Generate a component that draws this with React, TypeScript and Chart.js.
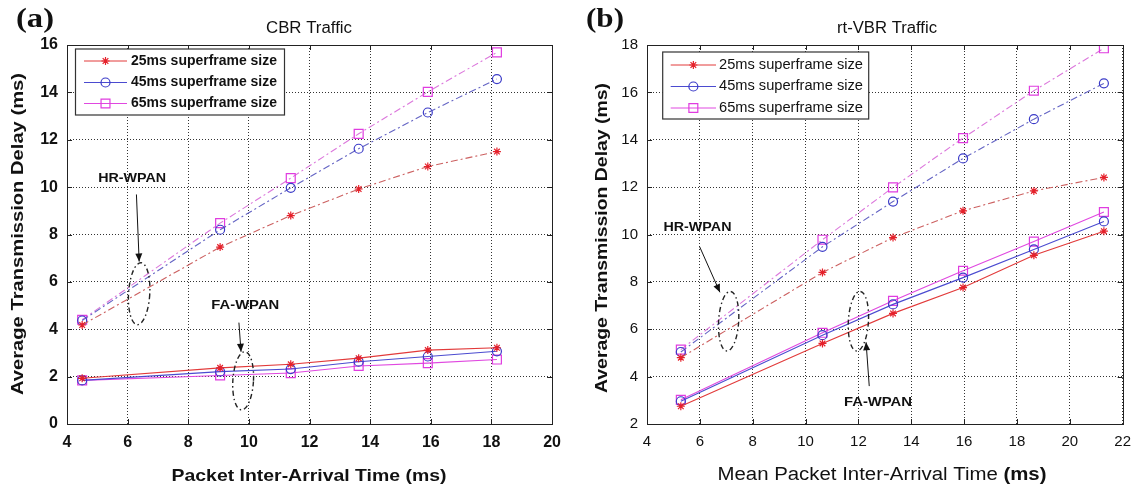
import React, { useEffect, useRef } from "react";
import { Chart, registerables } from "chart.js";
Chart.register(...registerables);

// ---------------- DATA ----------------
const seriesLabels = ["25ms superframe size", "45ms superframe size", "65ms superframe size"];

// (a) CBR Traffic
const cbrX = [4.5, 9.05, 11.38, 13.62, 15.9, 18.18];
const cbrHR25 = [4.18, 7.47, 8.8, 9.92, 10.87, 11.5];
const cbrHR45 = [4.37, 8.2, 9.97, 11.62, 13.15, 14.56];
const cbrHR65 = [4.4, 8.48, 10.38, 12.25, 14.02, 15.69];
const cbrFA25 = [1.93, 2.37, 2.52, 2.78, 3.12, 3.22];
const cbrFA45 = [1.84, 2.21, 2.32, 2.63, 2.85, 3.07];
const cbrFA65 = [1.84, 2.05, 2.15, 2.45, 2.57, 2.72];

// (b) rt-VBR Traffic
const vbrX = [5.28, 10.64, 13.31, 15.96, 18.64, 21.29];
const vbrHR25 = [4.8, 8.4, 9.87, 11.0, 11.84, 12.41];
const vbrHR45 = [5.04, 9.48, 11.39, 13.21, 14.87, 16.38];
const vbrHR65 = [5.14, 9.78, 11.99, 14.07, 16.07, 17.86];
const vbrFA25 = [2.75, 5.4, 6.67, 7.76, 9.12, 10.14];
const vbrFA45 = [2.96, 5.75, 7.05, 8.18, 9.37, 10.55];
const vbrFA65 = [3.02, 5.85, 7.2, 8.47, 9.7, 10.95];

const cbrXRange = [4, 20];
const cbrYRange = [0, 16];
const vbrXRange = [4, 22];
const vbrYRange = [2, 18];
const tickStep = 2;

// ---------------- STYLE ----------------
const SANS = "'Liberation Sans', Arial, Helvetica, sans-serif";
const SERIF = "'Liberation Serif', 'Times New Roman', serif";
const W = 570;
const H = 488;

const markerColors = ["#e5212b", "#3b3bc8", "#e03ce0"];
const faLineColors = ["#e23a3a", "#4b4bd0", "#e048e0"];
const hrLineColors = ["#cc6060", "#6464c4", "#dc78dc"];
const pointStyles = ["star", "circle", "rect"];
const pointRadii = [4, 4.5, 6.3];

type Note = {
  text: string;
  tx: number; ty: number;
  ax0: number; ay0: number; ax1: number; ay1: number;
  ex: number; ey: number; erx: number; ery: number;
};

type Layout = {
  area: { left: number; right: number; top: number; bottom: number };
  bold: boolean;
  tickSize: number;
  title: string; titleX: number; titleW: number;
  label: string; labelX: number;
  xTitle: string[]; xTitleX: number; xTitleY: number; xTitleW: number; xTitleFonts: string[];
  yTitleX: number; yTitleY: number; yTitleLen: number;
  legend: { x: number; y: number; w: number; h: number; rows: number[]; l0: number; l1: number; tx: number; tw: number; font: string };
  notes: Note[];
};

const cbrNotes: Note[] = [
  { text: "HR-WPAN", tx: 6.15, ty: 10.37, ax0: 6.29, ay0: 9.69, ax1: 6.38, ay1: 6.86, ex: 6.38, ey: 5.5, erx: 0.35, ery: 1.31 },
  { text: "FA-WPAN", tx: 9.88, ty: 5.0, ax0: 9.67, ay0: 4.28, ax1: 9.74, ay1: 3.05, ex: 9.81, ey: 1.82, erx: 0.34, ery: 1.23 },
];
const vbrNotes: Note[] = [
  { text: "HR-WPAN", tx: 5.91, ty: 10.3, ax0: 5.99, ay0: 9.49, ax1: 6.76, ay1: 7.56, ex: 7.09, ey: 6.34, erx: 0.38, ery: 1.26 },
  { text: "FA-WPAN", tx: 12.74, ty: 2.88, ax0: 12.41, ay0: 3.6, ax1: 12.29, ay1: 5.45, ex: 12.0, ey: 6.34, erx: 0.38, ery: 1.26 },
];

const cbrLayout: Layout = {
  area: { left: 67, right: 555, top: 45, bottom: 424 },
  bold: true,
  tickSize: 16,
  title: "CBR Traffic", titleX: 309, titleW: 86,
  label: "(a)", labelX: 35,
  xTitle: ["Packet Inter-Arrival Time (ms)"], xTitleX: 309, xTitleY: 476, xTitleW: 275, xTitleFonts: [`bold 17px ${SANS}`],
  yTitleX: 18, yTitleY: 234, yTitleLen: 322,
  legend: { x: 75.5, y: 49, w: 209, h: 66, rows: [61, 82.5, 103.5], l0: 84, l1: 127, tx: 131, tw: 146, font: `bold 14px ${SANS}` },
  notes: cbrNotes,
};
const vbrLayout: Layout = {
  area: { left: 77, right: 559, top: 45, bottom: 424 },
  bold: false,
  tickSize: 15,
  title: "rt-VBR Traffic", titleX: 317, titleW: 100,
  label: "(b)", labelX: 35,
  xTitle: ["Mean Packet Inter-Arrival Time ", "(ms)"], xTitleX: 312, xTitleY: 475, xTitleW: 329, xTitleFonts: [`18px ${SANS}`, `bold 18px ${SANS}`],
  yTitleX: 32, yTitleY: 238, yTitleLen: 310,
  legend: { x: 92.7, y: 52, w: 206, h: 67, rows: [65, 86.5, 108], l0: 100.7, l1: 146, tx: 149, tw: 144, font: `14px ${SANS}` },
  notes: vbrNotes,
};

// ---------------- DRAW HELPERS ----------------
function stretchText(ctx: CanvasRenderingContext2D, text: string, x: number, y: number, font: string, width: number, align: CanvasTextAlign = "center", rot = 0) {
  ctx.save();
  ctx.font = font;
  const w = ctx.measureText(text).width;
  ctx.translate(x, y);
  if (rot) ctx.rotate(rot);
  ctx.scale(width / w, 1);
  ctx.textAlign = align;
  ctx.textBaseline = "middle";
  ctx.fillStyle = "#111";
  ctx.fillText(text, 0, 0);
  ctx.restore();
}

function multiFontText(ctx: CanvasRenderingContext2D, parts: string[], fonts: string[], cx: number, y: number, width: number) {
  ctx.save();
  const widths = parts.map((p, i) => { ctx.font = fonts[i]; return ctx.measureText(p).width; });
  const total = widths.reduce((a, b) => a + b, 0);
  const s = width / total;
  ctx.translate(cx - width / 2, y);
  ctx.scale(s, 1);
  ctx.textAlign = "left";
  ctx.textBaseline = "middle";
  ctx.fillStyle = "#111";
  let x = 0;
  parts.forEach((p, i) => { ctx.font = fonts[i]; ctx.fillText(p, x, 0); x += widths[i]; });
  ctx.restore();
}

function drawMarker(ctx: CanvasRenderingContext2D, style: string, x: number, y: number, r: number, color: string) {
  ctx.save();
  ctx.strokeStyle = color;
  ctx.lineWidth = 1.2;
  ctx.beginPath();
  if (style === "star") {
    ctx.moveTo(x - r, y); ctx.lineTo(x + r, y);
    ctx.moveTo(x, y - r); ctx.lineTo(x, y + r);
    const d = r * 0.707;
    ctx.moveTo(x - d, y - d); ctx.lineTo(x + d, y + d);
    ctx.moveTo(x - d, y + d); ctx.lineTo(x + d, y - d);
  } else if (style === "circle") {
    ctx.arc(x, y, r, 0, Math.PI * 2);
  } else {
    const s = r * 0.707;
    ctx.rect(x - s, y - s, 2 * s, 2 * s);
  }
  ctx.stroke();
  ctx.restore();
}

function arrow(ctx: CanvasRenderingContext2D, x0: number, y0: number, x1: number, y1: number) {
  ctx.save();
  ctx.strokeStyle = "#111";
  ctx.fillStyle = "#111";
  ctx.lineWidth = 1;
  ctx.beginPath();
  ctx.moveTo(x0, y0);
  ctx.lineTo(x1, y1);
  ctx.stroke();
  const a = Math.atan2(y1 - y0, x1 - x0);
  const L = 8, hw = 3.5;
  ctx.beginPath();
  ctx.moveTo(x1, y1);
  ctx.lineTo(x1 - L * Math.cos(a) + hw * Math.sin(a), y1 - L * Math.sin(a) - hw * Math.cos(a));
  ctx.lineTo(x1 - L * Math.cos(a) - hw * Math.sin(a), y1 - L * Math.sin(a) + hw * Math.cos(a));
  ctx.closePath();
  ctx.fill();
  ctx.restore();
}

const decorPlugin = {
  id: "decor",
  afterDraw(chart: any) {
    const lay: Layout = chart.options.plugins.decor.layout;
    const ctx: CanvasRenderingContext2D = chart.ctx;
    const { left, right, top, bottom } = chart.chartArea;
    const xs = chart.scales.x;
    const ys = chart.scales.y;

    // frame + inward ticks
    ctx.save();
    ctx.strokeStyle = "#222";
    ctx.lineWidth = 1;
    ctx.strokeRect(Math.round(left) + 0.5, Math.round(top) + 0.5, Math.round(right - left), Math.round(bottom - top));
    ctx.beginPath();
    xs.ticks.forEach((t: any) => {
      const p = Math.round(xs.getPixelForValue(t.value)) + 0.5;
      ctx.moveTo(p, bottom); ctx.lineTo(p, bottom - 5);
      ctx.moveTo(p, top); ctx.lineTo(p, top + 5);
    });
    ys.ticks.forEach((t: any) => {
      const p = Math.round(ys.getPixelForValue(t.value)) + 0.5;
      ctx.moveTo(left, p); ctx.lineTo(left + 5, p);
      ctx.moveTo(right, p); ctx.lineTo(right - 5, p);
    });
    ctx.stroke();
    ctx.restore();

    // annotations
    lay.notes.forEach((n) => {
      stretchText(ctx, n.text, xs.getPixelForValue(n.tx), ys.getPixelForValue(n.ty), `bold 12px ${SANS}`, 68);
      arrow(ctx, xs.getPixelForValue(n.ax0), ys.getPixelForValue(n.ay0), xs.getPixelForValue(n.ax1), ys.getPixelForValue(n.ay1));
      const cx = xs.getPixelForValue(n.ex);
      const cy = ys.getPixelForValue(n.ey);
      const rx = Math.abs(xs.getPixelForValue(n.ex + n.erx) - cx);
      const ry = Math.abs(ys.getPixelForValue(n.ey + n.ery) - cy);
      ctx.save();
      ctx.strokeStyle = "#222";
      ctx.lineWidth = 1.4;
      ctx.setLineDash([5, 3, 1.5, 3]);
      ctx.beginPath();
      ctx.ellipse(cx, cy, rx, ry, 0.06, 0, Math.PI * 2);
      ctx.stroke();
      ctx.restore();
    });

    // legend
    const lg = lay.legend;
    ctx.save();
    ctx.fillStyle = "#fff";
    ctx.fillRect(lg.x, lg.y, lg.w, lg.h);
    ctx.strokeStyle = "#333";
    ctx.lineWidth = 1.2;
    ctx.strokeRect(lg.x, lg.y, lg.w, lg.h);
    ctx.restore();
    for (let i = 0; i < 3; i++) {
      const ds = chart.data.datasets[i + 3];
      const y = lg.rows[i];
      ctx.save();
      ctx.strokeStyle = ds.borderColor;
      ctx.lineWidth = 1;
      ctx.beginPath();
      ctx.moveTo(lg.l0, y); ctx.lineTo(lg.l1, y);
      ctx.stroke();
      ctx.restore();
      drawMarker(ctx, ds.pointStyle, (lg.l0 + lg.l1) / 2, y, ds.pointRadius, ds.pointBorderColor);
      stretchText(ctx, seriesLabels[i], lg.tx, y, lg.font, lg.tw, "left");
    }

    // texts
    stretchText(ctx, lay.title, lay.titleX, 29, `16px ${SANS}`, lay.titleW);
    stretchText(ctx, lay.label, lay.labelX, 20, `bold 28px ${SERIF}`, 38);
    multiFontText(ctx, lay.xTitle, lay.xTitleFonts, lay.xTitleX, lay.xTitleY, lay.xTitleW);
    stretchText(ctx, "Average Transmission Delay (ms)", lay.yTitleX, lay.yTitleY, `bold 16.5px ${SANS}`, lay.yTitleLen, "center", -Math.PI / 2);
  },
};

function buildDatasets(xs: number[], hr: number[][], fa: number[][]) {
  const out: any[] = [];
  hr.forEach((vals, i) => {
    out.push({
      label: seriesLabels[i] + " (HR-WPAN)",
      data: xs.map((x, j) => ({ x, y: vals[j] })),
      borderColor: hrLineColors[i],
      borderWidth: 1.1,
      borderDash: [7, 3, 2, 3],
      pointStyle: pointStyles[i],
      pointRadius: pointRadii[i],
      pointBorderColor: markerColors[i],
      pointBackgroundColor: "rgba(0,0,0,0)",
      pointBorderWidth: 1.2,
      fill: false,
      tension: 0,
    });
  });
  fa.forEach((vals, i) => {
    out.push({
      label: seriesLabels[i],
      data: xs.map((x, j) => ({ x, y: vals[j] })),
      borderColor: faLineColors[i],
      borderWidth: 1.1,
      pointStyle: pointStyles[i],
      pointRadius: pointRadii[i],
      pointBorderColor: markerColors[i],
      pointBackgroundColor: "rgba(0,0,0,0)",
      pointBorderWidth: 1.2,
      fill: false,
      tension: 0,
    });
  });
  return out;
}

function Panel(props: { left: number; xs: number[]; hr: number[][]; fa: number[][]; xr: number[]; yr: number[]; layout: Layout }) {
  const ref = useRef<HTMLCanvasElement | null>(null);
  useEffect(() => {
    if (!ref.current) return;
    const lay = props.layout;
    const tickFont = { family: SANS, size: lay.tickSize, weight: lay.bold ? "bold" : "normal" } as any;
    const chart = new Chart(ref.current, {
      type: "line",
      data: { datasets: buildDatasets(props.xs, props.hr, props.fa) },
      options: {
        responsive: false,
        animation: false,
        layout: { padding: { left: 0, top: lay.area.top, right: W - lay.area.right, bottom: 0 } },
        plugins: {
          legend: { display: false },
          tooltip: { enabled: false },
          title: { display: false },
          decor: { layout: lay },
        } as any,
        scales: {
          x: {
            type: "linear",
            min: props.xr[0],
            max: props.xr[1],
            ticks: { stepSize: tickStep, color: "#111", font: tickFont, padding: 9, maxRotation: 0, autoSkip: false },
            grid: { color: "#333", lineWidth: 1, drawTicks: false },
            border: { display: false, dash: [1, 2] },
            afterFit: (s: any) => { s.height = H - lay.area.bottom; },
          },
          y: {
            type: "linear",
            min: props.yr[0],
            max: props.yr[1],
            ticks: { stepSize: tickStep, color: "#111", font: tickFont, padding: 9, autoSkip: false },
            grid: { color: "#333", lineWidth: 1, drawTicks: false },
            border: { display: false, dash: [1, 2] },
            afterFit: (s: any) => { s.width = lay.area.left; },
          },
        },
      } as any,
      plugins: [decorPlugin],
    });
    return () => chart.destroy();
  }, []);
  return (
    <canvas
      ref={ref}
      width={W}
      height={H}
      style={{ position: "absolute", left: props.left, top: 0, width: W, height: H }}
    />
  );
}

export default function App() {
  return (
    <div style={{ position: "fixed", left: 0, top: 0, width: 1140, height: 488, background: "#fff", overflow: "hidden" }}>
      <Panel left={0} xs={cbrX} hr={[cbrHR25, cbrHR45, cbrHR65]} fa={[cbrFA25, cbrFA45, cbrFA65]} xr={cbrXRange} yr={cbrYRange} layout={cbrLayout} />
      <Panel left={570} xs={vbrX} hr={[vbrHR25, vbrHR45, vbrHR65]} fa={[vbrFA25, vbrFA45, vbrFA65]} xr={vbrXRange} yr={vbrYRange} layout={vbrLayout} />
    </div>
  );
}
